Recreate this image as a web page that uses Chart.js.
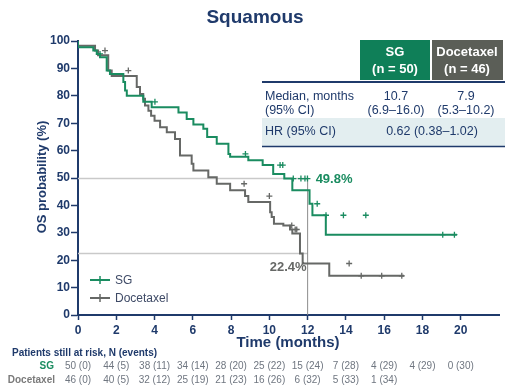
<!DOCTYPE html>
<html>
<head>
<meta charset="utf-8">
<script src="https://cdn.jsdelivr.net/npm/chart.js@4.4.1/dist/chart.umd.min.js"></script>
<style>
html,body{margin:0;padding:0;background:#fff;}
#wrap{position:relative;width:507px;height:388px;}
</style>
</head>
<body>
<div id="wrap"><canvas id="c" width="507" height="388"></canvas></div>
<script>
// ---- data ----
const xTicks = [0, 2, 4, 6, 8, 10, 12, 14, 16, 18, 20];
const yTicks = [0, 10, 20, 30, 40, 50, 60, 70, 80, 90, 100];
const sgTime = [0, 0.8, 0.98, 1.15, 1.5, 1.67, 2.37, 2.46, 2.55, 3.41, 3.85, 5.25, 5.68, 6.03, 6.55, 6.75, 7.25, 7.86, 7.95, 8.9, 9.65, 10.2, 10.78, 11.2, 12.1, 12.25, 12.95, 16.0, 19.8];
const sgSurv = [100, 97.7, 96.5, 95.3, 94.1, 89.2, 88, 85, 81.9, 80, 77.8, 75.8, 73.9, 71.5, 69.5, 68, 65, 62.5, 58.8, 57.8, 56.5, 54.7, 51.5, 49.8, 45.5, 40.6, 36.4, 29.3, 29.3];
const docTime = [0, 0.89, 1.05, 1.58, 1.76, 3.07, 3.24, 3.41, 3.5, 3.68, 3.82, 4.0, 4.29, 4.64, 5.07, 5.33, 5.94, 6.03, 6.81, 7.25, 7.95, 8.73, 8.9, 10.04, 10.12, 10.24, 10.73, 11.08, 11.2, 11.6, 11.74, 13.13, 14.74, 17.04];
const docSurv = [100, 98.3, 96.5, 94.8, 89.2, 87.2, 83.2, 80.7, 78.9, 76.5, 74.5, 72.7, 70.9, 68.5, 66.7, 64.2, 58.2, 55.2, 52.7, 50.3, 47.9, 45.5, 43.4, 41.2, 37.5, 35.8, 33.3, 32.7, 31.2, 29.7, 22.4, 18.8, 14.3, 14.3];
const sgCensor = [1.15, 4.02, 8.75, 10.56, 10.7, 11.25, 11.65, 11.86, 11.99, 12.5, 12.96, 13.87, 15.04, 19.06, 19.67];
const docCensor = [1.41, 2.63, 8.68, 10.0, 11.17, 11.35, 11.43, 14.17, 14.8, 15.87, 16.92];
const riskSG = ["50 (0)", "44 (5)", "38 (11)", "34 (14)", "28 (20)", "25 (22)", "15 (24)", "7 (28)", "4 (29)", "4 (29)", "0 (30)"];
const riskDoc = ["46 (0)", "40 (5)", "32 (12)", "25 (19)", "21 (23)", "16 (26)", "6 (32)", "5 (33)", "1 (34)"];
const medianSG = 49.8, medianDoc = 22.4, landmark = 12;

// ---- styles ----
const NAVY = '#1f3a6b';
const GREEN = '#1a8c60';
const GRAY = '#666866';
const F = '"Liberation Sans", Arial, sans-serif';
const FN = '"Liberation Sans Narrow", "Liberation Sans", Arial, sans-serif';

function stepAt(times, surv, t) {
  let s = surv[0];
  for (let i = 0; i < times.length; i++) { if (times[i] <= t) s = surv[i]; }
  return s;
}
const sgLine = sgTime.map((t, i) => ({x: t, y: sgSurv[i]}));
const docLine = docTime.map((t, i) => ({x: t, y: docSurv[i]}));
const sgCens = sgCensor.map(t => ({x: t, y: stepAt(sgTime, sgSurv, t)}));
const docCens = docCensor.map(t => ({x: t, y: stepAt(docTime, docSurv, t)}));

const refPlugin = {
  id: 'refLines',
  beforeDatasetsDraw(chart) {
    const {ctx, scales: {x, y}} = chart;
    ctx.save();
    ctx.strokeStyle = '#c9c9c9';
    ctx.lineWidth = 1.5;
    [medianSG, medianDoc].forEach(v => {
      ctx.beginPath();
      ctx.moveTo(x.getPixelForValue(0), y.getPixelForValue(v));
      ctx.lineTo(x.getPixelForValue(landmark), y.getPixelForValue(v));
      ctx.stroke();
    });
    ctx.strokeStyle = '#8c8c8c';
    ctx.lineWidth = 1;
    ctx.beginPath();
    ctx.moveTo(x.getPixelForValue(landmark), y.getPixelForValue(0));
    ctx.lineTo(x.getPixelForValue(landmark), y.getPixelForValue(medianSG + 0.5));
    ctx.stroke();
    ctx.restore();
  }
};

const textPlugin = {
  id: 'texts',
  afterDraw(chart) {
    const {ctx, scales: {x, y}} = chart;
    ctx.save();
    // title
    ctx.fillStyle = NAVY;
    ctx.font = 'bold 19px ' + F;
    ctx.textAlign = 'center';
    ctx.textBaseline = 'middle';
    ctx.fillText('Squamous', 255, 18);
    // y title
    ctx.save();
    ctx.translate(42, 177);
    ctx.rotate(-Math.PI / 2);
    ctx.font = 'bold 13px ' + F;
    ctx.fillText('OS probability (%)', 0, 0);
    ctx.restore();
    // x title
    ctx.font = 'bold 15px ' + F;
    ctx.fillText('Time (months)', 288, 343);
    // median labels
    ctx.textAlign = 'left';
    ctx.font = 'bold 13px ' + F;
    ctx.fillStyle = GREEN;
    ctx.fillText(medianSG.toFixed(1) + '%', x.getPixelForValue(landmark) + 8, y.getPixelForValue(medianSG) + 1);
    ctx.fillStyle = GRAY;
    ctx.textAlign = 'right';
    ctx.fillText(medianDoc.toFixed(1) + '%', x.getPixelForValue(landmark) - 1, y.getPixelForValue(medianDoc) + 14);

    // legend
    const legend = [[GREEN, 'SG', 280], [GRAY, 'Docetaxel', 298]];
    legend.forEach(([c, lab, ly]) => {
      ctx.strokeStyle = c; ctx.lineWidth = 2;
      ctx.beginPath(); ctx.moveTo(90, ly); ctx.lineTo(110, ly); ctx.stroke();
      ctx.lineWidth = 1.5;
      ctx.beginPath(); ctx.moveTo(100, ly - 4); ctx.lineTo(100, ly + 4); ctx.stroke();
      ctx.fillStyle = '#3e4a66';
      ctx.font = '12px ' + F;
      ctx.textAlign = 'left';
      ctx.fillText(lab, 115, ly + 1);
    });

    // summary table
    ctx.fillStyle = '#0f7f58';
    ctx.fillRect(360, 40, 70, 40);
    ctx.fillStyle = '#5b5e57';
    ctx.fillRect(432, 40, 71, 40);
    ctx.fillStyle = '#e3eef0';
    ctx.fillRect(262, 118, 243, 28);
    ctx.strokeStyle = NAVY; ctx.lineWidth = 2;
    ctx.beginPath(); ctx.moveTo(262, 82); ctx.lineTo(505, 82); ctx.stroke();
    ctx.lineWidth = 1.5;
    ctx.beginPath(); ctx.moveTo(262, 146.5); ctx.lineTo(505, 146.5); ctx.stroke();
    ctx.fillStyle = '#ffffff';
    ctx.font = 'bold 13px ' + F;
    ctx.textAlign = 'center';
    ctx.fillText('SG', 395, 52);
    ctx.fillText('(n = 50)', 395, 69);
    ctx.fillText('Docetaxel', 467, 52);
    ctx.fillText('(n = 46)', 467, 69);
    ctx.fillStyle = NAVY;
    ctx.font = '12.5px ' + F;
    ctx.textAlign = 'left';
    ctx.fillText('Median, months', 265, 97);
    ctx.fillText('(95% CI)', 265, 111);
    ctx.fillText('HR (95% CI)', 265, 132);
    ctx.textAlign = 'center';
    ctx.fillText('10.7', 396, 97);
    ctx.fillText('(6.9\u201316.0)', 396, 111);
    ctx.fillText('7.9', 466, 97);
    ctx.fillText('(5.3\u201310.2)', 466, 111);
    ctx.fillText('0.62 (0.38\u20131.02)', 432, 132);

    // at-risk table
    ctx.textAlign = 'left';
    ctx.fillStyle = NAVY;
    ctx.font = 'bold 10px ' + F;
    ctx.fillText('Patients still at risk, N (events)', 12, 353);
    ctx.textAlign = 'right';
    ctx.fillStyle = GREEN;
    ctx.fillText('SG', 54, 366);
    ctx.fillStyle = '#7a7a7a';
    ctx.fillText('Docetaxel', 55, 380);
    ctx.textAlign = 'center';
    ctx.fillStyle = '#6f7680';
    ctx.font = '10px ' + FN;
    riskSG.forEach((v, i) => ctx.fillText(v, x.getPixelForValue(xTicks[i]), 366));
    riskDoc.forEach((v, i) => ctx.fillText(v, x.getPixelForValue(xTicks[i]), 380));
    ctx.restore();
  }
};

new Chart(document.getElementById('c'), {
  type: 'scatter',
  data: {
    datasets: [
      {label: 'SG', data: sgLine, showLine: true, stepped: 'after', borderColor: GREEN, borderWidth: 2, pointRadius: 0, fill: false},
      {label: 'Docetaxel', data: docLine, showLine: true, stepped: 'after', borderColor: GRAY, borderWidth: 2, pointRadius: 0, fill: false},
      {label: 'SG censored', data: sgCens, showLine: false, pointStyle: 'cross', pointRadius: 3, borderColor: GREEN, borderWidth: 1.3},
      {label: 'Docetaxel censored', data: docCens, showLine: false, pointStyle: 'cross', pointRadius: 3, borderColor: GRAY, borderWidth: 1.3}
    ]
  },
  options: {
    responsive: false,
    animation: false,
    events: [],
    layout: {padding: {left: 0, right: 8, top: 41, bottom: 0}},
    plugins: {legend: {display: false}, title: {display: false}, tooltip: {enabled: false}},
    scales: {
      x: {
        type: 'linear', min: 0, max: 22,
        afterBuildTicks(scale) { scale.ticks = xTicks.map(v => ({value: v})); },
        afterFit(scale) { scale.height = 73; },
        grid: {drawOnChartArea: false, drawTicks: true, tickLength: 5, tickColor: NAVY, tickWidth: 1.5},
        border: {color: NAVY, width: 2},
        ticks: {color: NAVY, font: {family: F, size: 12, weight: 'bold'}, padding: 3, maxRotation: 0, autoSkip: false}
      },
      y: {
        type: 'linear', min: 0, max: 100,
        afterBuildTicks(scale) { scale.ticks = yTicks.map(v => ({value: v})); },
        afterFit(scale) { scale.width = 78; },
        grid: {drawOnChartArea: false, drawTicks: true, tickLength: 7, tickColor: NAVY, tickWidth: 1.5},
        border: {color: NAVY, width: 2},
        ticks: {color: NAVY, font: {family: F, size: 12, weight: 'bold'}, padding: 1}
      }
    }
  },
  plugins: [refPlugin, textPlugin]
});
</script>
</body>
</html>
